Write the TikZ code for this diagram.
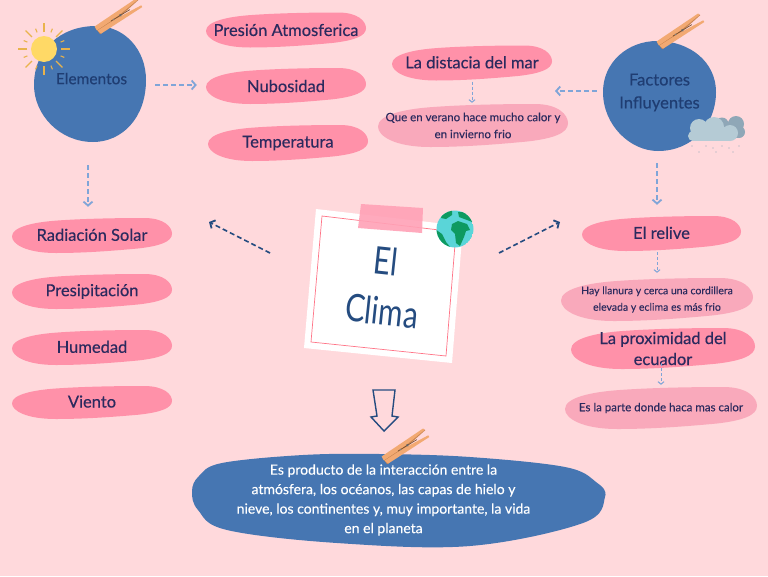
\documentclass[tikz,border=0pt]{standalone}
\usepackage{fontspec}
\setmainfont{Lato}
\newfontfamily\lblfont{Lato}[FakeBold=0.35]
\newfontfamily\smlfont{Lato}[FakeBold=0.15]
\usetikzlibrary{arrows.meta}
\definecolor{bgpink}{HTML}{FFD9DC}
\definecolor{strongpink}{HTML}{FF91A9}
\definecolor{softpink}{HTML}{F9A9BB}
\definecolor{bluefill}{HTML}{4676B2}
\definecolor{inkdark}{HTML}{2B2A5E}
\definecolor{inkblue}{HTML}{1F3D72}
\definecolor{navy}{HTML}{254C80}
\definecolor{lightarrow}{HTML}{7FA5D8}
\definecolor{pegfill}{HTML}{F2A972}
\definecolor{pegedge}{HTML}{C98550}
\definecolor{sunfill}{HTML}{FFD966}
\definecolor{sunray}{HTML}{E9B34C}
\definecolor{earthsea}{HTML}{5AD5D8}
\definecolor{earthland}{HTML}{0E9A60}
\definecolor{cloudfront}{HTML}{B5CBD5}
\definecolor{cloudback}{HTML}{8FA7B7}
\tikzset{
  lbl/.style={inner sep=0pt,align=center,text=inkdark,font=\lblfont\fontsize{16.5}{21}\selectfont},
  lblsmall/.style={inner sep=0pt,align=center,text=inkdark,font=\smlfont\fontsize{11.5}{17}\selectfont},
  lblmini/.style={inner sep=0pt,align=center,text=inkdark,font=\smlfont\fontsize{10.5}{16.5}\selectfont},
  softarrow/.style={draw=lightarrow,line width=1.8pt,dash pattern=on 5pt off 3pt,-{Straight Barb[length=4pt,width=9pt,line width=1.8pt]}},
  thinarrow/.style={draw=lightarrow,line width=.8pt,dash pattern=on 3pt off 2pt,-{Straight Barb[length=2.5pt,width=6pt,line width=1pt]}},
  darkarrow/.style={draw=navy,line width=1.6pt,dash pattern=on 5pt off 3pt,-{Straight Barb[length=4pt,width=9pt,line width=1.8pt]}},
}
% name, cx, cy, w, h, colour, style, text
\newcommand{\blobnode}[8]{%
  \fill[#6,shift={(#2,#3)},x={(#4/2*1pt,0pt)},y={(0pt,-#5/2*1pt)}]
    (-1,.05) .. controls (-1,-.5) and (-.72,-.76) .. (-.45,-.85)
    .. controls (-.1,-.97) and (.35,-1) .. (.65,-1)
    .. controls (.9,-1) and (1,-.5) .. (1,-.1)
    .. controls (1,.35) and (.85,.6) .. (.58,.74)
    .. controls (.25,.88) and (-.1,1) .. (-.45,1)
    .. controls (-.82,1) and (-1,.5) .. (-1,.05) -- cycle;
  \node[#7,minimum width=#4pt,minimum height=#5pt] (#1) at (#2,#3) {#8};}
\newcommand{\pegdraw}[3]{%
  \begin{scope}[shift={(#1,#2)},rotate=#3]
    \fill[pegedge] (-25,-2) -- (25,-6) -- (26,-4.5) -- (-24,6) -- cycle;
    \fill[pegfill] (-25,-3.5) -- (25,-7) -- (25.5,-5) -- (-2,-.5) -- (-25,1) -- cycle;
    \fill[pegfill] (-24.5,1.5) -- (-2,.5) -- (26,1.5) -- (26,3.5) -- (-23,6) -- cycle;
    \draw[pegedge!60!black,line width=.7pt] (-8,0) -- (14,-.5);
    \fill[black!60] (3,-.3) circle (1.4);
    \fill[black!50] (-5,0) circle (.9);
  \end{scope}}
\begin{document}
\begin{tikzpicture}[x=1pt,y=-1pt]
\useasboundingbox (0,0) rectangle (768,576);
\fill[bgpink] (0,0) rectangle (768,576);

% Elementos
\fill[bluefill] (96,26) .. controls (125,26) and (146,50) .. (146,80)
  .. controls (146,118) and (122,142) .. (93,142)
  .. controls (60,142) and (34,115) .. (34,85)
  .. controls (34,50) and (60,26) .. (96,26) -- cycle;
\node[lbl,font=\lblfont\fontsize{15.5}{20}\selectfont,text=inkblue,minimum width=112pt,minimum height=116pt] (elem) at (91.5,85) {\raisebox{13pt}{Elementos}};
\foreach \a in {0,45,...,315} {\draw[sunray,line width=1.3pt] (44,49) ++(\a:17) -- ++(\a:9);}
\foreach \a in {22.5,67.5,...,337.5} {\draw[sunray,line width=1.1pt] (44,49) ++(\a:18) -- ++(\a:4);}
\fill[sunfill] (44,49) circle (13);
\pegdraw{118}{17}{30}

% Factores
\fill[bluefill] (657,41) .. controls (690,41) and (716,62) .. (716,92)
  .. controls (716,125) and (692,151) .. (658,151)
  .. controls (630,151) and (603,125) .. (603,92)
  .. controls (603,62) and (628,41) .. (657,41) -- cycle;
\node[lbl,font=\lblfont\fontsize{16.5}{23}\selectfont,text=inkblue,minimum width=113pt,minimum height=110pt] (fact) at (659.5,96) {\raisebox{26pt}{\begin{tabular}{@{}c@{}}Factores\\Influyentes\end{tabular}}};
\pegdraw{680}{32}{30}
\fill[cloudback] (722,124) circle (6.5) (736,124) circle (8) (739,132) circle (6);
\fill[cloudback] (716,124) rectangle (739,138);
\fill[cloudfront] (699,128) circle (9) (714,127) circle (10) (730,133) circle (8) (693,136) circle (5);
\fill[cloudfront] (693,130) rectangle (730,141);
\foreach \px/\py in {692/146,699/152,706/146,713/148,716/152,722/146,729/148,733/152,739/146}
  \fill[cloudback] (\px,\py) circle (.7);

% Left column
\blobnode{rad}{92}{235.5}{160}{35}{strongpink}{lbl}{\raisebox{1.5pt}{Radiación Solar}}
\blobnode{pre}{92}{291.5}{160}{35}{strongpink}{lbl}{\raisebox{1.5pt}{Presipitación}}
\blobnode{hum}{92}{347.5}{160}{35}{strongpink}{lbl}{\raisebox{1.5pt}{Humedad}}
\blobnode{vie}{92}{402.5}{160}{33}{strongpink}{lbl}{\raisebox{2pt}{Viento}}

% Top middle
\blobnode{pres}{286}{30}{160}{35}{strongpink}{lbl}{Presión Atmosferica}
\blobnode{nub}{286}{86}{160}{36}{strongpink}{lbl}{Nubosidad}
\blobnode{tem}{288}{143}{160}{36}{strongpink}{lbl}{\raisebox{1.5pt}{Temperatura}}
\blobnode{mar}{472}{63}{160}{35}{strongpink}{lbl}{\raisebox{1.5pt}{La distacia del mar}}
\blobnode{ver}{473}{125.5}{190}{43}{softpink}{lblsmall}{Que en verano hace mucho calor y\\en invierno frio}

% Right column
\blobnode{rel}{661.5}{233.5}{159}{35}{strongpink}{lbl}{\raisebox{1.5pt}{El relive}}
\blobnode{hay}{657}{299.5}{192}{43}{softpink}{lblmini}{Hay llanura y cerca una cordillera\\elevada y eclima es más frio}
\blobnode{pro}{663}{348.5}{184}{41}{strongpink}{lbl}{La proximidad del\\ecuador}
\blobnode{par}{661}{408}{192}{42}{softpink}{lblsmall}{Es la parte donde haca mas calor}

% Card
\fill[white] (316,209) -- (463,226) -- (452,363) -- (304,348) -- cycle;
\draw[strongpink!80!red,line width=.7pt] (322,216) -- (456,232) -- (446,356) -- (311,342) -- cycle;
\fill[strongpink!85,opacity=.9] (361,204) -- (423,208) -- (422,233) -- (358,228) -- cycle;
\node[inner sep=0pt,text=navy,font=\fontsize{38}{46}\selectfont,rotate=-6] (tit1) at (386,261) {\scalebox{.78}[1]{El}};
\node[inner sep=0pt,text=navy,font=\fontsize{38}{46}\selectfont,rotate=-6] (tit2) at (382,311) {\scalebox{.78}[1]{Clima}};

% Earth
\begin{scope}
  \clip (455,229) circle (18.5);
  \fill[earthsea] (455,229) circle (18.5);
  \begin{scope}[shift={(455,229)}]
    \fill[earthland] (-12,-17) -- (-3,-19) -- (-3,-14) -- (-9,-10) -- (-14,-11) -- cycle;
    \fill[earthland] (-3,-5) -- (3,-8) -- (12,-5) -- (15,1) -- (11,2) -- (9,8) -- (5,17) -- (1,14) -- (0,5) -- (-4,1) -- cycle;
    \fill[earthland] (3,-17) -- (16,-17) -- (20,-6) -- (12,-9) -- (4,-12) -- cycle;
    \fill[earthland] (-20,0) -- (-13,5) -- (-9,13) -- (-4,19) -- (-14,18) -- (-20,10) -- cycle;
  \end{scope}
\end{scope}

% Bottom blob
\fill[bluefill] plot[smooth cycle,tension=.6] coordinates {(192,491) (199,476) (222,463) (303,455) (380,454) (470,457) (565,467) (596,482) (605,497) (583,523) (470,546) (337,543) (227,530) (198,510)};
\node[inner sep=0pt,align=center,text=white,font=\smlfont\fontsize{14}{19.5}\selectfont,minimum width=413pt,minimum height=93pt] (pro2) at (398,500) {\kern-14.5pt\raisebox{8pt}{\begin{tabular}{@{}c@{}}Es producto de la interacción entre la\\atmósfera, los océanos, las capas de hielo y\\nieve, los continentes y, muy importante, la vida\\en el planeta\end{tabular}}\kern14.5pt};
\pegdraw{405}{447}{30}

% Hollow arrow
\draw[navy,line width=1.4pt,line join=miter] (373,390) -- (395,390) -- (392,416) -- (398,417) -- (384,431) -- (371,417) -- (377,416) -- cycle;

% Connectors
\coordinate (lefttip) at (209,222);
\coordinate (leftfoot) at (270,253);
\coordinate (righttip) at (560,222);
\coordinate (rightfoot) at (499,253);
\coordinate (factleft) at (555,91);
\draw[softarrow,shorten <=7.5pt,shorten >=9pt] (elem.east) -- (elem.east -| nub.west);
\draw[softarrow,shorten <=22pt,shorten >=11pt] ([xshift=-3.5pt]elem.south) -- ([xshift=-3.5pt]elem.south |- rad.north);
\draw[softarrow,shorten <=6pt] ([yshift=5pt]fact.west) -- (factleft);
\draw[softarrow,shorten <=12pt,shorten >=11pt] ([xshift=-2.5pt]fact.south) -- ([xshift=-2.5pt]fact.south |- rel.north);
\draw[thinarrow,shorten <=1pt,shorten >=1pt] (mar.south) -- (mar.south |- ver.north);
\draw[thinarrow,shorten <=1pt,shorten >=5pt] ([xshift=-4.5pt]rel.south) -- ([xshift=-4.5pt]rel.south |- hay.north);
\draw[thinarrow,shorten <=-6pt,shorten >=2pt] ([xshift=-2pt]pro.south) -- ([xshift=-2pt]pro.south |- par.north);
\draw[darkarrow] (leftfoot) -- (lefttip);
\draw[darkarrow] (rightfoot) -- (righttip);
\end{tikzpicture}
\end{document}
